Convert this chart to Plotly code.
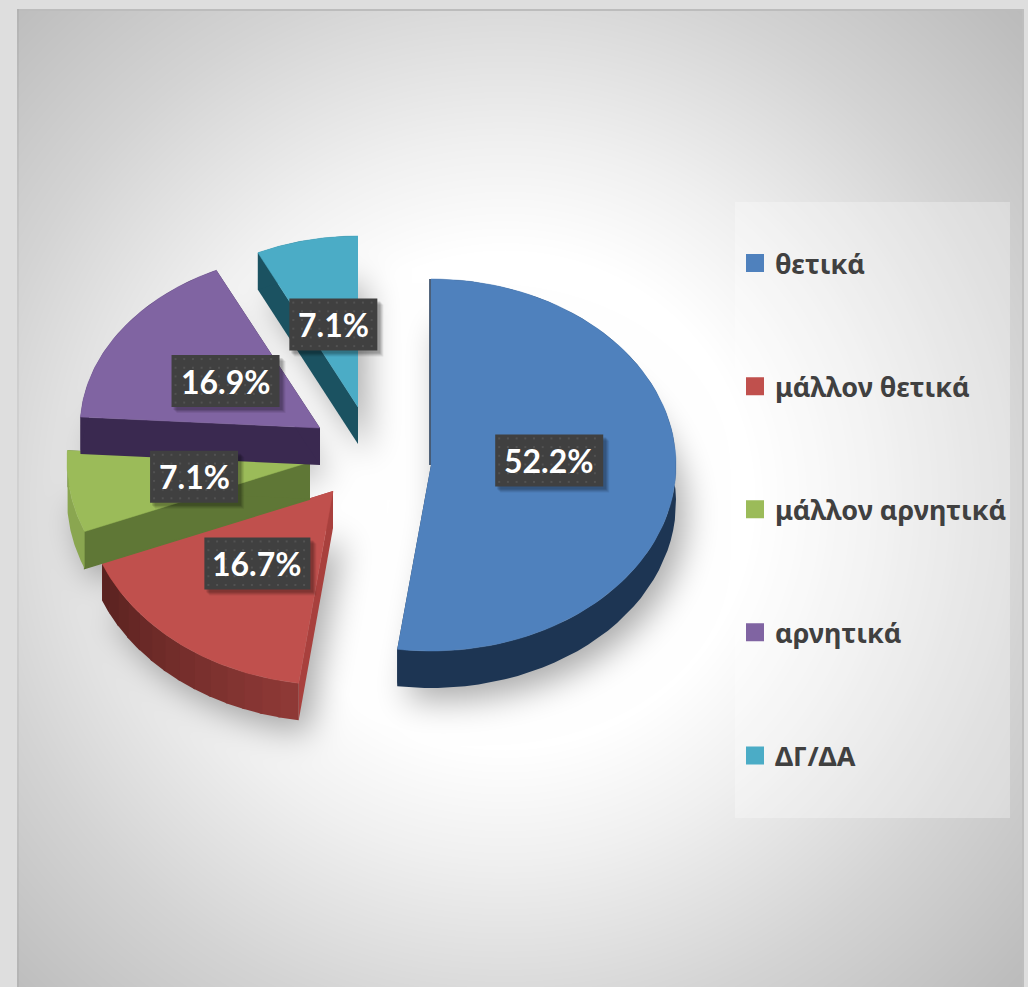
import base64, struct, zlib
import numpy as np
import plotly.graph_objects as go

# ---- data ----
CATEGORIES = ["θετικά", "μάλλον θετικά", "μάλλον αρνητικά", "αρνητικά", "ΔΓ/ΔΑ"]
VALUES = [52.2, 16.7, 7.1, 16.9, 7.1]
LABELS = ["52.2%", "16.7%", "7.1%", "16.9%", "7.1%"]

# ---- styles and geometry of the exploded, tilted pie ----
TOP = ["#4f81bd", "#c0504d", "#9bbb59", "#8064a2", "#4bacc6"]
CUT = ["#1d3553", "#a8403d", "#5f7736", "#3a2950", "#1b5261"]
RIM_A = ["#1d3553", "#8e3936", "#8aa650", "#3a2950", "#1b5261"]
RIM_B = ["#1d3553", "#5a2220", "#8aa650", "#3a2950", "#1b5261"]
CX = [431, 333, 310, 320, 358]
CY = [465, 491, 462, 428, 407]
RX = [245, 249, 243, 240, 232]
RY = [186, 194, 186, 175, 171]
LABEL_DX = [-4, 1, 4, 5, 1]
LABEL_DY = [-11, -4, 0, 2, 1]
BOX_W = [108, 106, 88, 108, 88]
BOX_H = 52
DEPTH = 37
W, H = 1028, 987
DRAW_ORDER = [1, 2, 3, 4, 0]

cum = np.concatenate([[0], np.cumsum(VALUES)]) / sum(VALUES) * 360.0
A0, A1 = cum[:-1], cum[1:]


def arc(i, a, b, n=80, dy=0.0):
    t = np.radians(np.linspace(a, b, n))
    return CX[i] + RX[i] * np.sin(t), CY[i] - RY[i] * np.cos(t) + dy


def hexmix(c1, c2, f):
    a = [int(c1[k:k + 2], 16) for k in (1, 3, 5)]
    b = [int(c2[k:k + 2], 16) for k in (1, 3, 5)]
    return "#%02x%02x%02x" % tuple(round(p + (q - p) * f) for p, q in zip(a, b))


# ---- background raster: radial vignette, frame and soft shadow of the slices ----
def background():
    yy, xx = np.mgrid[0:H, 0:W].astype(float)
    r = np.hypot(xx - 505, (yy - 500))
    g = np.interp(r, [250, 360, 530, 690, 760], [255, 240, 212, 190, 182])
    mask = np.zeros((H, W))
    for i in range(5):
        dx = (xx - CX[i] - 9) / RX[i]
        dy = (yy - CY[i] - DEPTH - 12) / RY[i]
        ang = np.degrees(np.arctan2(dx, -dy)) % 360
        mask[(dx**2 + dy**2 <= 1) & (ang >= A0[i]) & (ang <= A1[i])] = 1
    k = 15
    for _ in range(3):
        for ax in (0, 1):
            c = np.cumsum(np.pad(mask, [(k + 1, k) if a == ax else (0, 0) for a in (0, 1)], mode="edge"), axis=ax)
            mask = (np.take(c, range(2 * k + 1, c.shape[ax]), axis=ax) - np.take(c, range(0, c.shape[ax] - 2 * k - 1), axis=ax)) / (2 * k + 1)
    g = g * (1 - 0.33 * mask)
    frame = (xx < 17) | (xx >= 1024) | (yy < 9)
    g[frame] = 222
    g[(yy >= 9) & (yy < 11) & (xx >= 17) & (xx < 1024)] = 188
    g[(xx >= 17) & (xx < 19) & (yy >= 9)] -= 10
    g[(xx >= 1022) & (xx < 1024) & (yy >= 9)] = 190
    raw = np.clip(g, 0, 255).astype(np.uint8)
    body = b"".join(b"\x00" + raw[y].tobytes() for y in range(H))

    def chunk(t, d):
        return struct.pack(">I", len(d)) + t + d + struct.pack(">I", zlib.crc32(t + d))

    png = b"\x89PNG\r\n\x1a\n" + chunk(b"IHDR", struct.pack(">IIBBBBB", W, H, 8, 0, 0, 0, 0)) + chunk(b"IDAT", zlib.compress(body, 9)) + chunk(b"IEND", b"")
    return "data:image/png;base64," + base64.b64encode(png).decode()


fig = go.Figure()


def poly(x, y, color, lw=0.5):
    fig.add_trace(go.Scatter(x=list(x), y=list(y), mode="lines", fill="toself", fillcolor=color,
                             line=dict(color=color, width=lw), hoverinfo="skip", showlegend=False))


for i in DRAW_ORDER:
    for ang in (A0[i], A1[i]):
        ex, ey = arc(i, ang, ang, 1)
        # the green slice's front cut gets a wider edge so that it closes against the red top
        lw = 1.5 if (i == 2 and ang == A0[i]) else 0
        poly([CX[i], ex[0], ex[0], CX[i]], [CY[i], ey[0], ey[0] + DEPTH, CY[i] + DEPTH], CUT[i], lw=lw)
    nseg = 14 if RIM_A[i] != RIM_B[i] else 1
    edges = np.linspace(A0[i], A1[i], nseg + 1)
    for s in range(nseg):
        # neighbouring segments overlap a little so that no seams show
        x1, y1 = arc(i, edges[s], min(edges[s + 1] + 0.6, A1[i]), 60)
        x2, y2 = arc(i, min(edges[s + 1] + 0.6, A1[i]), edges[s], 60, dy=DEPTH)
        poly(np.r_[x1, x2], np.r_[y1, y2], hexmix(RIM_A[i], RIM_B[i], s / max(nseg - 1, 1)), lw=0)
    ax, ay = arc(i, A0[i], A1[i])
    poly(np.r_[CX[i], ax], np.r_[CY[i], ay], TOP[i])
    if i == 0:
        ex, ey = arc(i, A0[i], A0[i], 1)
        fig.add_trace(go.Scatter(x=[CX[i] - 1, ex[0] - 1], y=[CY[i], ey[0]], mode="lines",
                                 line=dict(color=CUT[i], width=1.5), hoverinfo="skip", showlegend=False))

# value labels: dark box with a shadow and a dotted texture, placed half way along each slice
annotations = []
for i in range(5):
    mid = np.radians((A0[i] + A1[i]) / 2)
    lx = CX[i] + 0.5 * RX[i] * np.sin(mid) + LABEL_DX[i]
    ly = CY[i] - 0.5 * RY[i] * np.cos(mid) + LABEL_DY[i]
    bw, bh = BOX_W[i] / 2, BOX_H / 2
    for off, alpha in ((6, 0.07), (5, 0.08), (4, 0.1), (3, 0.12)):
        poly([lx - bw + off - 1, lx + bw + off, lx + bw + off, lx - bw + off - 1],
             [ly - bh + off, ly - bh + off, ly + bh + off, ly + bh + off], f"rgba(0,0,0,{alpha})", lw=0)
    poly([lx - bw, lx + bw, lx + bw, lx - bw], [ly - bh, ly - bh, ly + bh, ly + bh], "#404040", lw=0)
    gx, gy = np.meshgrid(np.arange(lx - bw + 4, lx + bw, 8.7), np.arange(ly - bh + 4, ly + bh, 8.7))
    fig.add_trace(go.Scatter(x=gx.ravel(), y=gy.ravel(), mode="markers", hoverinfo="skip", showlegend=False,
                             marker=dict(symbol="square", size=2, color="#525252", line=dict(width=0))))
    annotations.append(dict(x=lx, y=ly, text=LABELS[i], showarrow=False, xanchor="center", yanchor="middle",
                            font=dict(family="Lato, Open Sans", size=32, color="white", weight=700)))

# legend entries
for i, name in enumerate(CATEGORIES):
    fig.add_trace(go.Scatter(x=[None], y=[None], mode="markers", name=name, legendgroup=name,
                             marker=dict(symbol="square", size=16, color=TOP[i], line=dict(width=2, color=TOP[i]))))

fig.update_layout(
    width=W, height=H, margin=dict(l=0, r=0, t=0, b=0),
    paper_bgcolor="white", plot_bgcolor="rgba(0,0,0,0)",
    xaxis=dict(range=[0, W], visible=False, fixedrange=True),
    yaxis=dict(range=[H, 0], visible=False, fixedrange=True),
    images=[dict(source=background(), xref="paper", yref="paper", x=0, y=1, sizex=1, sizey=1,
                 sizing="stretch", xanchor="left", yanchor="top", layer="below")],
    shapes=[dict(type="rect", xref="x", yref="y", x0=735, x1=1010, y0=202, y1=818, layer="below",
                 fillcolor="rgba(255,255,255,0.3)", line=dict(width=0))],
    annotations=annotations,
    legend=dict(x=735 / W, xanchor="left", y=1 - 239 / H, yanchor="top", bgcolor="rgba(0,0,0,0)",
                tracegroupgap=85, itemsizing="trace",
                font=dict(family="Noto Sans, Open Sans", size=27, color="#404040", weight=700)),
    showlegend=True,
)

fig.write_html("out.html", config=dict(displayModeBar=False),
               post_script="document.body.style.margin='0';document.body.style.overflow='hidden';")
